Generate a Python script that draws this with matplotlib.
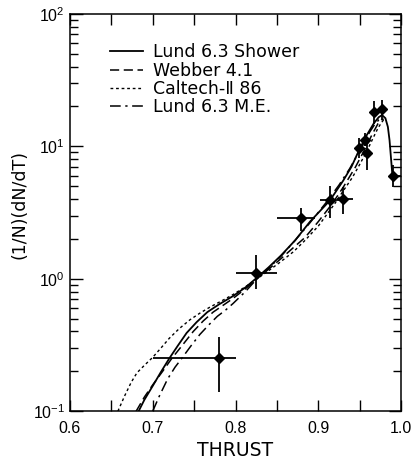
import numpy as np
import matplotlib
matplotlib.use("Agg")
import matplotlib.pyplot as plt
from matplotlib.ticker import LogLocator, MultipleLocator, NullFormatter

plt.rcParams['font.family'] = ['Liberation Sans', 'DejaVu Sans']
plt.rcParams['mathtext.default'] = 'regular'

# measured points
data_x = [0.78, 0.825, 0.879, 0.914, 0.930, 0.949, 0.956, 0.959, 0.967, 0.977, 0.990]
data_y = [0.252, 1.10, 2.9, 3.9, 4.0, 9.7, 11.1, 8.85, 18.1, 19.1, 6.0]
x_lo = [0.700, 0.800, 0.850, 0.902, 0.922, 0.949, 0.956, 0.959, 0.967, 0.977, 0.985]
x_hi = [0.800, 0.850, 0.896, 0.925, 0.942, 0.949, 0.956, 0.959, 0.967, 0.977, 1.000]
y_lo = [0.139, 0.84, 2.3, 2.9, 3.1, 8.1, 10.0, 6.6, 14.8, 16.0, 4.9]
y_hi = [0.363, 1.51, 3.4, 5.0, 4.9, 11.6, 12.5, 11.2, 22.0, 22.5, 7.2]

# model curves
lund_sh_x = [0.683, 0.690, 0.700, 0.710, 0.720, 0.730, 0.741, 0.753, 0.766, 0.780,
             0.797, 0.812, 0.826, 0.840, 0.855, 0.872, 0.890, 0.914, 0.930, 0.940,
             0.948, 0.958, 0.967, 0.973, 0.977, 0.981, 0.984, 0.986, 0.988, 0.990]
lund_sh_y = [0.10, 0.122, 0.155, 0.198, 0.25, 0.31, 0.39, 0.47, 0.56, 0.64,
             0.74, 0.86, 1.02, 1.22, 1.50, 1.95, 2.7, 3.9, 5.5, 7.0,
             9.0, 12.0, 14.9, 16.6, 17.2, 16.3, 14.0, 11.1, 7.8, 5.5]

webber_x = [0.680, 0.690, 0.700, 0.712, 0.723, 0.735, 0.749, 0.761, 0.773, 0.785,
            0.797, 0.812, 0.826, 0.840, 0.855, 0.870, 0.884, 0.900, 0.917, 0.930,
            0.945, 0.955, 0.965, 0.972, 0.977, 0.979]
webber_y = [0.10, 0.128, 0.158, 0.20, 0.25, 0.31, 0.40, 0.48, 0.56, 0.63,
            0.71, 0.84, 1.0, 1.18, 1.42, 1.72, 2.05, 2.7, 3.7, 4.9,
            7.0, 9.2, 12.3, 14.8, 16.0, 16.0]

caltech_x = [0.658, 0.666, 0.674, 0.681, 0.690, 0.700, 0.710, 0.720, 0.732, 0.745,
             0.757, 0.769, 0.785, 0.797, 0.812, 0.826, 0.840, 0.855, 0.870, 0.884,
             0.900, 0.920, 0.930, 0.941, 0.950, 0.959, 0.966, 0.972, 0.976, 0.979]
caltech_y = [0.10, 0.13, 0.165, 0.195, 0.222, 0.255, 0.30, 0.355, 0.42, 0.49,
             0.55, 0.61, 0.69, 0.76, 0.87, 1.0, 1.15, 1.35, 1.6, 1.95,
             2.5, 3.7, 4.6, 5.8, 7.3, 9.3, 11.5, 13.7, 15.0, 15.9]

lund_me_x = [0.700, 0.708, 0.718, 0.727, 0.735, 0.746, 0.757, 0.768, 0.778, 0.788,
             0.797, 0.812, 0.826, 0.840, 0.855, 0.872, 0.890, 0.910, 0.925, 0.938,
             0.947, 0.955, 0.962, 0.968, 0.973, 0.976]
lund_me_y = [0.10, 0.13, 0.175, 0.215, 0.25, 0.31, 0.38, 0.45, 0.52, 0.58,
             0.65, 0.80, 1.0, 1.2, 1.48, 1.95, 2.65, 3.8, 5.1, 6.8,
             8.6, 10.5, 12.8, 14.6, 15.8, 16.0]

fig = plt.figure(figsize=(4.11, 4.61), dpi=100)
ax = fig.add_axes([0.170, 0.108, 0.806, 0.862])

ax.plot(lund_sh_x, lund_sh_y, color='black', lw=1.3, ls='-', label='Lund 6.3 Shower')
ax.plot(webber_x, webber_y, color='black', lw=1.1, ls=(0, (6, 3)), label='Webber 4.1')
ax.plot(caltech_x, caltech_y, color='black', lw=1.0, ls=(0, (2, 2)), label='Caltech-\u2161 86')
ax.plot(lund_me_x, lund_me_y, color='black', lw=1.1, ls=(0, (7, 3, 1.5, 3)), label='Lund 6.3 M.E.')

xerr = [np.array(data_x) - np.array(x_lo), np.array(x_hi) - np.array(data_x)]
yerr = [np.array(data_y) - np.array(y_lo), np.array(y_hi) - np.array(data_y)]
ax.errorbar(data_x, data_y, xerr=xerr, yerr=yerr, fmt='D', color='black',
            ms=5, elinewidth=1.3, capsize=0)

ax.set_yscale('log')
ax.set_xlim(0.6, 1.0)
ax.set_ylim(0.1, 100)
ax.set_xticks([0.6, 0.7, 0.8, 0.9, 1.0])
ax.set_xticklabels(['0.6', '0.7', '0.8', '0.9', '1.0'])
ax.xaxis.set_minor_locator(MultipleLocator(0.05))
ax.yaxis.set_major_locator(LogLocator(base=10))
ax.yaxis.set_minor_locator(LogLocator(base=10, subs=np.arange(2, 10)))
ax.yaxis.set_minor_formatter(NullFormatter())

ax.tick_params(which='both', direction='in', top=True, right=True, labelsize=11.5, width=1.0)
ax.tick_params(which='major', length=9)
ax.tick_params(which='minor', length=6)
ax.tick_params(axis='x', which='both', length=8, pad=7)
for s in ax.spines.values():
    s.set_linewidth(1.1)

ax.set_xlabel('THRUST', fontsize=13.5, family='DejaVu Sans', labelpad=4)
ax.set_ylabel('(1/N)(dN/dT)', fontsize=12.5, family='DejaVu Sans')
ax.yaxis.set_label_coords(-0.125, 0.52)

ax.legend(loc='upper left', bbox_to_anchor=(0.1, 0.943), frameon=False,
          prop={'family': 'DejaVu Sans', 'size': 12.5},
          handlelength=1.9, handletextpad=0.6, labelspacing=0.02, borderaxespad=0)

fig.savefig('out.png', dpi=100)
